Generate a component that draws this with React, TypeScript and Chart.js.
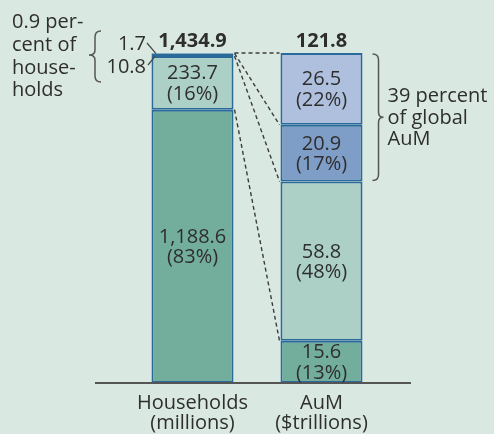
import React, { useEffect, useRef } from "react";
import { Chart, registerables } from "chart.js";

Chart.register(...registerables);

const categories = ["Households", "AuM"];
const categoryUnits = ["(millions)", "($trillions)"];
const totals = [1434.9, 121.8];
const baseValues = [1188.6, 15.6];
const midValues = [233.7, 58.8];
const upperValues = [10.8, 20.9];
const topValues = [1.7, 26.5];
const leftNote = ["0.9 per-", "cent of", "house-", "holds"];
const rightNote = ["39 percent", "of global", "AuM"];

const seriesValues = [baseValues, midValues, upperValues, topValues];
const seriesColors = ["#73ae9d", "#acd0c5", "#7f9ec7", "#afc0df"];
const BORDER = "#2a6a9b";
const TEXT = "#2e2e2e";
const FONT = '"Open Sans", sans-serif';

const fmt = (v: number) =>
  v.toLocaleString("en-US", { minimumFractionDigits: 1, maximumFractionDigits: 1 });

const share = (v: number, i: number) => (v / totals[i]) * 100;

const overlayPlugin = {
  id: "overlay",
  afterDatasetsDraw(chart: any) {
    const ctx: CanvasRenderingContext2D = chart.ctx;
    const area = chart.chartArea;
    const metas = seriesValues.map((_, d) => chart.getDatasetMeta(d));
    ctx.save();

    // axis line
    ctx.strokeStyle = "#555555";
    ctx.lineWidth = 2;
    ctx.beginPath();
    ctx.moveTo(95, area.bottom);
    ctx.lineTo(411, area.bottom);
    ctx.stroke();

    // dashed connectors
    ctx.strokeStyle = "#3c3c3c";
    ctx.lineWidth = 1.4;
    ctx.setLineDash([4, 3]);
    for (let d = 0; d < seriesValues.length; d++) {
      const hh = metas[d].data[0];
      const au = metas[d].data[1];
      ctx.beginPath();
      ctx.moveTo(hh.x + hh.width / 2 + 1, hh.y);
      ctx.lineTo(au.x - au.width / 2 - 1, au.y);
      ctx.stroke();
    }
    ctx.setLineDash([]);

    // segment labels
    ctx.fillStyle = TEXT;
    ctx.textAlign = "center";
    ctx.textBaseline = "alphabetic";
    ctx.font = `20px ${FONT}`;
    for (let d = 0; d < seriesValues.length; d++) {
      for (let i = 0; i < categories.length; i++) {
        const v = seriesValues[d][i];
        const s = share(v, i);
        if (s < 5) continue;
        const el = metas[d].data[i];
        const c = (el.y + el.base) / 2;
        ctx.fillText(fmt(v), el.x, c - 3.5);
        ctx.fillText(`(${Math.round(s)}%)`, el.x, c + 17);
      }
    }

    // totals
    ctx.font = `bold 20px ${FONT}`;
    for (let i = 0; i < categories.length; i++) {
      const el = metas[0].data[i];
      ctx.fillText(fmt(totals[i]), el.x, area.top - 6);
    }

    // category labels
    ctx.font = `20px ${FONT}`;
    for (let i = 0; i < categories.length; i++) {
      const el = metas[0].data[i];
      ctx.fillText(categories[i], el.x, area.bottom + 25.5);
      ctx.fillText(categoryUnits[i], el.x, area.bottom + 46);
    }

    // small households segment labels
    ctx.textAlign = "right";
    ctx.fillText(fmt(topValues[0]), 146, 50);
    ctx.fillText(fmt(upperValues[0]), 146, 73);

    // leader lines
    ctx.strokeStyle = "#444444";
    ctx.lineWidth = 1.2;
    ctx.beginPath();
    ctx.moveTo(147, 43);
    ctx.lineTo(156, metas[3].data[0].y + 0.5);
    ctx.moveTo(148, 65);
    ctx.lineTo(155, metas[2].data[0].base + 0.5);
    ctx.stroke();

    // left note
    ctx.textAlign = "left";
    const lb = [28, 51, 73.5, 96];
    leftNote.forEach((t, k) => ctx.fillText(t, 12, lb[k]));

    // left brace
    ctx.strokeStyle = "#555555";
    ctx.lineWidth = 1.5;
    ctx.beginPath();
    ctx.moveTo(101, 31);
    ctx.quadraticCurveTo(95, 31, 95, 37);
    ctx.lineTo(95, 50);
    ctx.quadraticCurveTo(95, 55, 89, 55);
    ctx.quadraticCurveTo(95, 55, 95, 60);
    ctx.lineTo(95, 76);
    ctx.quadraticCurveTo(95, 82, 101, 82);
    ctx.stroke();

    // right brace spanning the top two AuM segments
    const auTop = metas[3].data[1].y;
    const auBot = metas[2].data[1].base;
    const mid = (auTop + auBot) / 2;
    const bx = metas[3].data[1].x + metas[3].data[1].width / 2 + 10;
    ctx.beginPath();
    ctx.moveTo(bx, auTop + 1);
    ctx.quadraticCurveTo(bx + 6, auTop + 1, bx + 6, auTop + 7);
    ctx.lineTo(bx + 6, mid - 5);
    ctx.quadraticCurveTo(bx + 6, mid, bx + 11, mid);
    ctx.quadraticCurveTo(bx + 6, mid, bx + 6, mid + 5);
    ctx.lineTo(bx + 6, auBot - 7);
    ctx.quadraticCurveTo(bx + 6, auBot - 1, bx, auBot - 1);
    ctx.stroke();

    // right note
    const rb = [102, 123.5, 145];
    rightNote.forEach((t, k) => ctx.fillText(t, bx + 15, rb[k]));

    ctx.restore();
  },
};

export default function App() {
  const ref = useRef<HTMLCanvasElement | null>(null);

  useEffect(() => {
    document.body.style.margin = "0";
    document.body.style.background = "#dae8e2";
    if (!ref.current) return;
    const chart = new Chart(ref.current, {
      type: "bar",
      data: {
        labels: categories,
        datasets: seriesValues.map((vals, d) => ({
          label: `s${d}`,
          data: vals.map((v, i) => share(v, i)),
          backgroundColor: seriesColors[d],
          borderColor: BORDER,
          borderWidth: 2,
          borderSkipped: false,
          barPercentage: 0.636,
          categoryPercentage: 1,
        })),
      },
      options: {
        responsive: false,
        animation: false,
        devicePixelRatio: 1,
        layout: { padding: { left: 128, right: 108, top: 53, bottom: 51 } },
        plugins: { legend: { display: false }, tooltip: { enabled: false } },
        scales: {
          x: { display: false, stacked: true },
          y: { display: false, stacked: true, min: 0, max: 100 },
        },
      },
      plugins: [overlayPlugin],
    });
    return () => chart.destroy();
  }, []);

  return (
    <div style={{ width: 494, height: 434, background: "#dae8e2" }}>
      <canvas ref={ref} width={494} height={434} />
    </div>
  );
}
